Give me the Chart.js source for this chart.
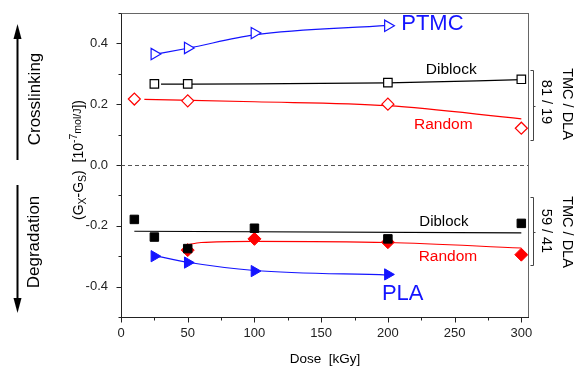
<!DOCTYPE html>
<html>
<head>
<meta charset="utf-8">
<script src="https://cdn.jsdelivr.net/npm/chart.js@4.4.1/dist/chart.umd.min.js"></script>
<style>
  html,body{margin:0;padding:0;background:#fff}
  #wrap{width:576px;height:369px}
</style>
</head>
<body>
<div id="wrap"><canvas id="c" width="576" height="369"></canvas></div>
<script>
const FONT = "'Liberation Sans', Arial, sans-serif"
const BLUE = '#1414ff', RED = '#ff0000', BLACK = '#000000', AXIS = '#222222'

// measured values: dose [kGy] vs (Gx-Gs) [1e-7 mol/J]
const ptmcDose = [25, 50, 100, 200]
const ptmcG = [0.365, 0.385, 0.434, 0.458]
const plaDose = [25, 50, 100, 200]
const plaG = [-0.300, -0.321, -0.349, -0.360]
const diblock81Dose = [25, 50, 200, 300]
const diblock81G = [0.267, 0.267, 0.271, 0.282]
const random81Dose = [10, 50, 200, 300]
const random81G = [0.217, 0.211, 0.200, 0.121]
const diblock59Dose = [10, 25, 50, 100, 200, 300]
const diblock59G = [-0.179, -0.237, -0.275, -0.208, -0.243, -0.192]
const random59Dose = [50, 100, 200, 300]
const random59G = [-0.280, -0.243, -0.254, -0.295]

// fitted curves
const ptmcFitDose = [25, 50, 100, 200]
const ptmcFitG = [0.364, 0.384, 0.428, 0.459]
const plaFitDose = [25, 50, 100, 200]
const plaFitG = [-0.298, -0.320, -0.347, -0.362]
const diblock81FitDose = [30, 100, 200, 300]
const diblock81FitG = [0.266, 0.267, 0.270, 0.281]
const random81FitDose = [17.5, 100, 200, 300]
const random81FitG = [0.216, 0.208, 0.195, 0.152]
const diblock59FitDose = [10, 300]
const diblock59FitG = [-0.218, -0.223]
const random59FitDose = [49, 60, 100, 200, 300]
const random59FitG = [-0.263, -0.255, -0.251, -0.255, -0.273]

// axis ticks
const xMajor = [0, 50, 100, 150, 200, 250, 300]
const xMinor = [25, 75, 125, 175, 225, 275]
const yMajor = [-0.4, -0.2, 0, 0.2, 0.4]
const yMinor = [-0.5, -0.3, -0.1, 0.1, 0.3, 0.5]

const pts = (xs, ys) => xs.map((v, i) => ({ x: v, y: ys[i] }))

function markers(label, xs, ys, color, style, filled, r, rot) {
  return { label, data: pts(xs, ys), showLine: false, order: 0,
    pointStyle: style, rotation: rot || 0, pointRadius: r, pointHoverRadius: r,
    borderColor: color, borderWidth: filled ? 1 : 1.2,
    backgroundColor: filled ? color : '#ffffff' }
}
function fit(label, xs, ys, color) {
  return { label, data: pts(xs, ys), showLine: true, order: 1, pointRadius: 0,
    borderColor: color, borderWidth: 1.2, cubicInterpolationMode: 'monotone', fill: false }
}

function line(ctx, x1, y1, x2, y2) { ctx.beginPath(); ctx.moveTo(x1, y1); ctx.lineTo(x2, y2); ctx.stroke() }

function label(ctx, str, px, py, size, color, align) {
  ctx.font = size + 'px ' + FONT
  ctx.fillStyle = color
  ctx.textAlign = align || 'center'
  ctx.textBaseline = 'middle'
  ctx.fillText(str, px, py)
}

// text rotated by angle, runs = [text, size, baseline shift]
function rotatedRuns(ctx, runs, x0, y0, angle, color) {
  ctx.save()
  ctx.translate(x0, y0)
  ctx.rotate(angle)
  ctx.fillStyle = color
  ctx.textBaseline = 'alphabetic'
  ctx.textAlign = 'left'
  let total = 0
  runs.forEach(r => { ctx.font = r[1] + 'px ' + FONT; total += ctx.measureText(r[0]).width })
  let u = -total / 2
  runs.forEach(r => {
    ctx.font = r[1] + 'px ' + FONT
    ctx.fillText(r[0], u, r[2])
    u += ctx.measureText(r[0]).width
  })
  ctx.restore()
}

function arrow(ctx, x, yFrom, yTo) {
  const dir = yTo < yFrom ? -1 : 1
  const headLen = 15, half = 4
  ctx.strokeStyle = '#000'; ctx.lineWidth = 2
  line(ctx, x, yFrom, x, yTo - dir * headLen)
  ctx.fillStyle = '#000'
  ctx.beginPath()
  ctx.moveTo(x, yTo)
  ctx.lineTo(x - half, yTo - dir * headLen)
  ctx.lineTo(x + half, yTo - dir * headLen)
  ctx.closePath(); ctx.fill()
}

function bracket(ctx, x, top, bottom) {
  ctx.strokeStyle = '#444'; ctx.lineWidth = 1
  ctx.beginPath()
  ctx.moveTo(x - 3, top); ctx.lineTo(x, top); ctx.lineTo(x, bottom); ctx.lineTo(x - 3, bottom)
  ctx.stroke()
  const mid = Math.round((top + bottom) / 2) + 0.5
  line(ctx, x, mid, x + 2, mid)
}

const decor = {
  id: 'decor',
  beforeDatasetsDraw(chart) {
    const { ctx, chartArea: a, scales: { y } } = chart
    ctx.save()
    ctx.strokeStyle = '#555'; ctx.lineWidth = 1; ctx.setLineDash([4, 3])
    const y0 = Math.round(y.getPixelForValue(0)) + 0.5
    line(ctx, a.left, y0, a.right, y0)
    ctx.restore()
  },
  afterDraw(chart) {
    const { ctx, chartArea: a, scales: { x, y } } = chart
    ctx.save()

    // frame: top and right
    ctx.strokeStyle = '#666'; ctx.lineWidth = 1
    line(ctx, a.left, Math.round(a.top) + 0.5, a.right, Math.round(a.top) + 0.5)
    line(ctx, Math.round(a.right) + 0.5, a.top, Math.round(a.right) + 0.5, a.bottom)

    // outward tick marks
    ctx.strokeStyle = AXIS
    const bx = Math.round(a.bottom) + 0.5
    xMajor.forEach(v => { const p = Math.round(x.getPixelForValue(v)) + 0.5; line(ctx, p, bx, p, bx + 5) })
    xMinor.forEach(v => { const p = Math.round(x.getPixelForValue(v)) + 0.5; line(ctx, p, bx, p, bx + 3) })
    const lx = Math.round(a.left) + 0.5
    yMajor.forEach(v => { const p = Math.round(y.getPixelForValue(v)) + 0.5; line(ctx, lx, p, lx - 5, p) })
    yMinor.forEach(v => { const p = Math.round(y.getPixelForValue(v)) + 0.5; line(ctx, lx, p, lx - 3, p) })

    // series names inside the plot
    const X = v => x.getPixelForValue(v), Y = v => y.getPixelForValue(v)
    label(ctx, 'PTMC', X(210), Y(0.463), 22, BLUE, 'left')
    label(ctx, 'PLA', X(195.5), Y(-0.425), 22, BLUE, 'left')
    label(ctx, 'Diblock', X(247.5), Y(0.312), 15.5, BLACK)
    label(ctx, 'Random', X(241.5), Y(0.132), 15.5, RED)
    label(ctx, 'Diblock', X(242), Y(-0.186), 15, BLACK)
    label(ctx, 'Random', X(245), Y(-0.301), 15.5, RED)

    // composition brackets on the right
    bracket(ctx, 533.5, 70.5, 140.5)
    bracket(ctx, 533.5, 197.5, 265.5)
    rotatedRuns(ctx, [['TMC / DLA', 14.5, 0]], 563, 104, Math.PI / 2, '#000')
    rotatedRuns(ctx, [['81 / 19', 14.5, 0]], 541.5, 102, Math.PI / 2, '#000')
    rotatedRuns(ctx, [['TMC / DLA', 14.5, 0]], 563, 232, Math.PI / 2, '#000')
    rotatedRuns(ctx, [['59 / 41', 14.5, 0]], 541.5, 231, Math.PI / 2, '#000')

    // left side: direction arrows
    arrow(ctx, 17.5, 160, 24)
    arrow(ctx, 17.5, 185, 313)
    rotatedRuns(ctx, [['Crosslinking', 17, 0]], 40, 99, -Math.PI / 2, '#000')
    rotatedRuns(ctx, [['Degradation', 17, 0]], 39, 242, -Math.PI / 2, '#000')

    // y axis title
    rotatedRuns(ctx, [
      ['(G', 14, 0], ['X', 10.5, 3], ['-G', 14, 0], ['S', 10.5, 3],
      [')  [10', 14, 0], ['-7', 10.5, -6], ['mol/J', 10.5, -2], ['])', 14, 0]
    ], 83, 160, -Math.PI / 2, '#000')

    // x axis title
    label(ctx, 'Dose  [kGy]', 325, 359, 13.5, '#000')
    ctx.restore()
  }
}

new Chart(document.getElementById('c'), {
  type: 'scatter',
  data: {
    datasets: [
      markers('PTMC', ptmcDose, ptmcG, BLUE, 'triangle', false, 6.5, 90),
      markers('Diblock 81/19', diblock81Dose, diblock81G, BLACK, 'rect', false, 6, 0),
      markers('Random 81/19', random81Dose, random81G, RED, 'rectRot', false, 6, 0),
      markers('Diblock 59/41', diblock59Dose, diblock59G, BLACK, 'rect', true, 6, 0),
      markers('Random 59/41', random59Dose, random59G, RED, 'rectRot', true, 6.5, 0),
      markers('PLA', plaDose, plaG, BLUE, 'triangle', true, 6.5, 90),
      fit('PTMC fit', ptmcFitDose, ptmcFitG, BLUE),
      fit('Diblock 81/19 fit', diblock81FitDose, diblock81FitG, BLACK),
      fit('Random 81/19 fit', random81FitDose, random81FitG, RED),
      fit('Diblock 59/41 fit', diblock59FitDose, diblock59FitG, BLACK),
      fit('Random 59/41 fit', random59FitDose, random59FitG, RED),
      fit('PLA fit', plaFitDose, plaFitG, BLUE)
    ]
  },
  options: {
    responsive: false, animation: false, devicePixelRatio: 1,
    layout: { padding: { left: 0, right: 48, top: 13, bottom: 0 } },
    plugins: { legend: { display: false }, tooltip: { enabled: false } },
    scales: {
      x: {
        type: 'linear', min: 0, max: 305,
        afterBuildTicks: s => { s.ticks = xMajor.map(v => ({ value: v })) },
        afterFit: s => { s.height = 52; s.paddingLeft = 0; s.paddingRight = 0 },
        grid: { display: false, drawTicks: false },
        border: { color: AXIS, width: 1 },
        ticks: { color: AXIS, padding: 9, maxRotation: 0, autoSkip: false,
          font: { family: FONT, size: 13 }, callback: v => String(v) }
      },
      y: {
        type: 'linear', min: -0.5, max: 0.5,
        afterBuildTicks: s => { s.ticks = yMajor.map(v => ({ value: v })) },
        afterFit: s => { s.width = 121; s.paddingTop = 0; s.paddingBottom = 0 },
        grid: { display: false, drawTicks: false },
        border: { color: AXIS, width: 1 },
        ticks: { color: AXIS, padding: 13, autoSkip: false,
          font: { family: FONT, size: 13 }, callback: v => v.toFixed(1) }
      }
    }
  },
  plugins: [decor]
})
</script>
</body>
</html>
